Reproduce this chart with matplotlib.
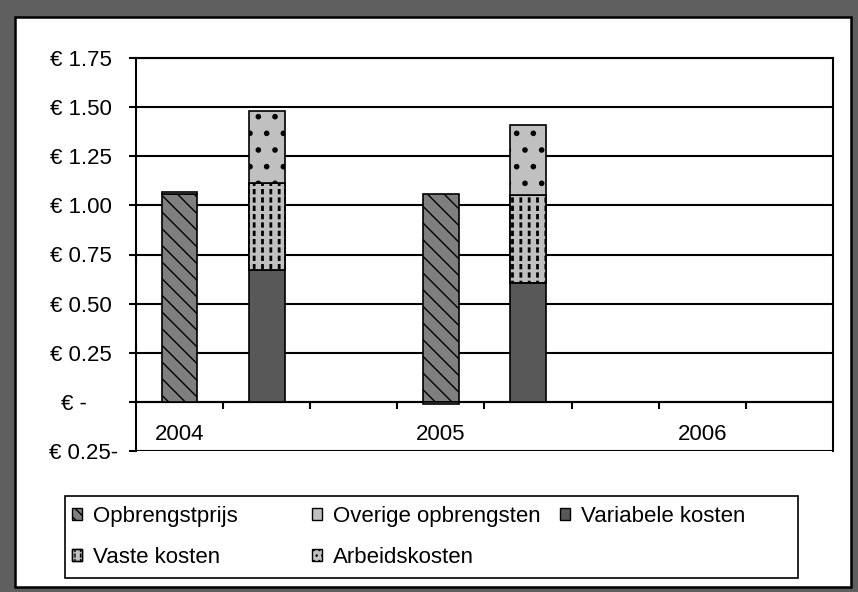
import numpy as np
import matplotlib.pyplot as plt
from matplotlib.patches import Rectangle, Patch
from matplotlib.legend_handler import HandlerTuple

plt.rcParams['font.family'] = ['Liberation Sans', 'DejaVu Sans']
plt.rcParams['hatch.linewidth'] = 1.0

W, H = 858, 592  # output size in pixels

# Data (euro per unit)
years = ['2004', '2005', '2006']
opbrengstprijs = [1.06, 1.06, 0.0]
overige_opbrengsten = [0.006, -0.012, 0.0]
variabele_kosten = [0.67, 0.605, 0.0]
vaste_kosten = [0.445, 0.45, 0.0]
arbeidskosten = [0.365, 0.355, 0.0]

ytick_values = [-0.25, 0, 0.25, 0.5, 0.75, 1.0, 1.25, 1.5, 1.75]
ytick_labels = ['€ 0.25-', '€ -     ', '€ 0.25 ', '€ 0.50 ', '€ 0.75 ',
                '€ 1.00 ', '€ 1.25 ', '€ 1.50 ', '€ 1.75 ']

legend_labels = ['Opbrengstprijs', 'Overige opbrengsten', 'Variabele kosten',
                 'Vaste kosten', 'Arbeidskosten']

c_opb = '#7f7f7f'
c_light = '#c0c0c0'
c_var = '#585858'


def hatch_lw(patches, lw):
    # thicker hatch strokes where the matplotlib version supports it
    for p in patches:
        if hasattr(p, 'set_hatch_linewidth'):
            p.set_hatch_linewidth(lw)


fig = plt.figure(figsize=(W / 100, H / 100), dpi=100, facecolor='#5f5f5f')

# white panel with black frame, kept behind the axes
fig.patches.append(Rectangle((15.5 / W, 5.5 / H), 835 / W, 570 / H,
                             transform=fig.transFigure, facecolor='white',
                             edgecolor='black', lw=1.8, zorder=-5))

ax = fig.add_axes([136 / W, 1 - 451 / H, (833 - 136) / W, (451 - 58) / H])
ax.set_facecolor('white')

bw = 0.41
rev_x = [3 * i for i in range(len(years))]
cost_x = [3 * i + 1 for i in range(len(years))]

ax.bar(rev_x, opbrengstprijs, width=bw, color=c_opb, edgecolor='black',
       hatch='\\\\', lw=1.2, zorder=3)
ov_bottom = [p if o > 0 else 0 for p, o in zip(opbrengstprijs, overige_opbrengsten)]
ax.bar(rev_x, overige_opbrengsten, bottom=ov_bottom, width=bw, color=c_light,
       edgecolor='black', lw=1.2, zorder=3)

ax.bar(cost_x, variabele_kosten, width=bw, color=c_var, edgecolor='black',
       lw=1.2, zorder=3)

vaste_bottom = variabele_kosten
vaste = ax.bar(cost_x, vaste_kosten, bottom=vaste_bottom, width=bw, color=c_light,
               edgecolor='black', hatch='||', lw=1.2, zorder=3)
hatch_lw(vaste, 2.0)
gaps = ax.bar(cost_x, vaste_kosten, bottom=vaste_bottom, width=bw,
              facecolor='none', edgecolor=c_light, hatch='--', lw=0, zorder=3)
hatch_lw(gaps, 2.2)
ax.bar(cost_x, vaste_kosten, bottom=vaste_bottom, width=bw, fill=False,
       edgecolor='black', lw=1.2, zorder=3)

arb_bottom = [v + f for v, f in zip(variabele_kosten, vaste_kosten)]
arb = ax.bar(cost_x, arbeidskosten, bottom=arb_bottom, width=bw, color=c_light,
             edgecolor='black', hatch='.', lw=1.2, zorder=3)
hatch_lw(arb, 1.6)

ax.set_xlim(-0.5, 7.5)
ax.set_ylim(-0.25, 1.75)
ax.set_yticks(ytick_values)
ax.set_yticklabels(ytick_labels)
ax.set_xticks([i + 0.5 for i in range(7)])
ax.tick_params(axis='x', direction='out', length=5, width=1.5, labelbottom=False)
ax.tick_params(axis='y', direction='out', length=5, width=1.5, pad=8,
               labelsize=16)
ax.yaxis.grid(True, color='black', lw=1.5)
ax.set_axisbelow(True)

ax.spines['bottom'].set_position(('data', 0))
for s in ax.spines.values():
    s.set_linewidth(1.5)

for i, year in enumerate(years):
    ax.text(3 * i, -0.165, year, ha='center', va='center', fontsize=16)

# legend: frame plus three columns of equal width
fig.patches.append(Rectangle((65 / W, 1 - 578 / H), (798 - 65) / W, (578 - 496) / H,
                             transform=fig.transFigure, fill=False,
                             edgecolor='black', lw=1.2))

h_opb = Patch(facecolor=c_opb, edgecolor='black', hatch='\\\\\\')
h_ov = Patch(facecolor=c_light, edgecolor='black')
h_var = Patch(facecolor=c_var, edgecolor='black')
h_vaste = (Patch(facecolor=c_light, edgecolor='black', hatch='|||'),
           Patch(facecolor='none', edgecolor=c_light, hatch='---', lw=0),
           Patch(fill=False, edgecolor='black'))
h_arb = Patch(facecolor=c_light, edgecolor='black', hatch='...')

columns = [([h_opb, h_vaste], [legend_labels[0], legend_labels[3]], 72),
           ([h_ov, h_arb], [legend_labels[1], legend_labels[4]], 312),
           ([h_var], [legend_labels[2]], 560)]
for handles, labels, xpx in columns:
    fig.legend(handles=handles, labels=labels, loc='upper left',
               bbox_to_anchor=(xpx / W, 1 - 506 / H), frameon=False,
               borderpad=0, borderaxespad=0, handlelength=0.45,
               handleheight=0.45, handletextpad=0.5, labelspacing=0.9,
               fontsize=16,
               handler_map={tuple: HandlerTuple(ndivide=1, pad=0)})

fig.savefig('out.png', dpi=100, facecolor=fig.get_facecolor())
